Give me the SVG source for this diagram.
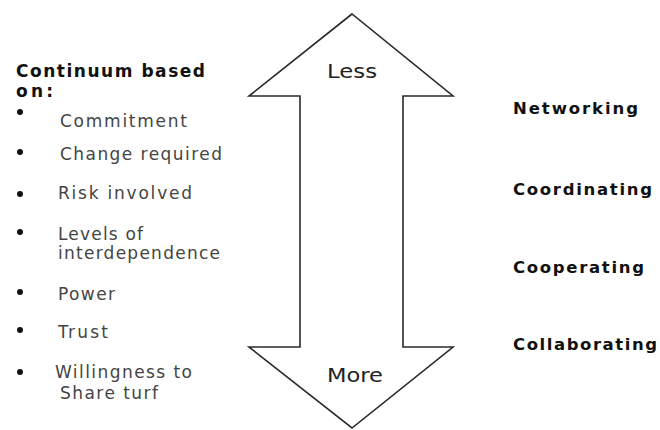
<svg xmlns="http://www.w3.org/2000/svg" width="660" height="430" viewBox="0 0 660 430">
  <style>
    .bg { fill: #ffffff; }
    .arrow { fill: #ffffff; stroke: #2a2a2a; stroke-width: 1.6; stroke-linejoin: miter; }
    .big { font-family: "DejaVu Sans", Verdana, sans-serif; font-size: 20px; fill: #222; }
    .head { font-family: "DejaVu Sans", Verdana, sans-serif; font-size: 17px; font-weight: bold; fill: #111; }
    .item { font-family: "DejaVu Sans", Verdana, sans-serif; font-size: 17px; fill: #444; }
    .lbl { font-family: "DejaVu Sans", Verdana, sans-serif; font-size: 16.5px; font-weight: bold; fill: #111; }
    .dot { fill: #111; }
  </style>
  <rect class="bg" x="0" y="0" width="660" height="430"/>

  <g id="arrow">
    <polygon class="arrow" points="352,14 249,96 300,96 300,347 249,347 352,428 453,347 403,347 403,96 453,96"/>
    <text class="big" x="327" y="78" textLength="50" lengthAdjust="spacingAndGlyphs">Less</text>
    <text class="big" x="327" y="382" textLength="56" lengthAdjust="spacingAndGlyphs">More</text>
  </g>

  <g id="criteria">
    <text class="head" x="16" y="77" textLength="189" lengthAdjust="spacing">Continuum based</text>
    <text class="head" x="16" y="97" textLength="37" lengthAdjust="spacing">on:</text>
    <circle class="dot" cx="20" cy="112" r="3"/>
    <text class="item" x="60" y="127" textLength="127" lengthAdjust="spacing">Commitment</text>
    <circle class="dot" cx="20" cy="152" r="3"/>
    <text class="item" x="60" y="160" textLength="162" lengthAdjust="spacing">Change required</text>
    <circle class="dot" cx="20" cy="194" r="3"/>
    <text class="item" x="58" y="199" textLength="134" lengthAdjust="spacing">Risk involved</text>
    <circle class="dot" cx="20" cy="232" r="3"/>
    <text class="item" x="58" y="240" textLength="85" lengthAdjust="spacing">Levels of</text>
    <text class="item" x="58" y="259" textLength="162" lengthAdjust="spacing">interdependence</text>
    <circle class="dot" cx="20" cy="292" r="3"/>
    <text class="item" x="58" y="300" textLength="57" lengthAdjust="spacing">Power</text>
    <circle class="dot" cx="20" cy="330" r="3"/>
    <text class="item" x="58" y="338" textLength="50" lengthAdjust="spacing">Trust</text>
    <circle class="dot" cx="20" cy="372" r="3"/>
    <text class="item" x="55" y="378" textLength="137" lengthAdjust="spacing">Willingness to</text>
    <text class="item" x="60" y="399" textLength="98" lengthAdjust="spacing">Share turf</text>
  </g>

  <g id="networking"><text class="lbl" x="513" y="114" textLength="125" lengthAdjust="spacing">Networking</text></g>
  <g id="coordinating"><text class="lbl" x="513" y="195" textLength="139" lengthAdjust="spacing">Coordinating</text></g>
  <g id="cooperating"><text class="lbl" x="513" y="273" textLength="131" lengthAdjust="spacing">Cooperating</text></g>
  <g id="collaborating"><text class="lbl" x="513" y="350" textLength="144" lengthAdjust="spacing">Collaborating</text></g>

  <g id="connectors"></g>
</svg>
